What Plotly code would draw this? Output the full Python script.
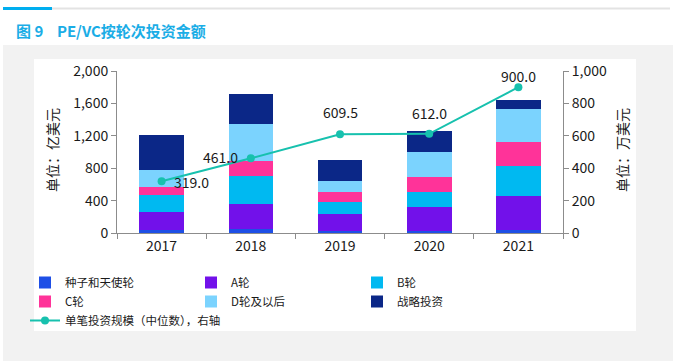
import plotly.graph_objects as go

years = ["2017", "2018", "2019", "2020", "2021"]
seed_angel = [37, 49, 29, 29, 33]
round_a = [227, 314, 206, 297, 421]
round_b = [202, 342, 144, 186, 372]
round_c = [107, 181, 128, 174, 293]
round_d_plus = [210, 462, 132, 318, 417]
strategic = [425, 363, 268, 252, 112]
median_deal = [319.0, 461.0, 609.5, 612.0, 900.0]

series = [
    ("种子和天使轮", seed_angel, "#1E4FE6"),
    ("A轮", round_a, "#7211EA"),
    ("B轮", round_b, "#00B9F1"),
    ("C轮", round_c, "#FF3399"),
    ("D轮及以后", round_d_plus, "#7BD3FE"),
    ("战略投资", strategic, "#0B2787"),
]
line_name = "单笔投资规模（中位数），右轴"
line_color = "#17C1AE"

W, H = 673, 361
L, R, T, B = 117, 563, 71, 233  # plot area in pixels

FONT = "Noto Sans CJK SC, Noto Sans, sans-serif"

def px(x):
    return (x - L) / (R - L)

def py(y):
    return (B - y) / (B - T)

fig = go.Figure()
for name, vals, col in series:
    fig.add_trace(go.Bar(x=years, y=vals, name=name, marker=dict(color=col, line=dict(width=0)),
                         width=0.5))
fig.add_trace(go.Scatter(x=years, y=median_deal, name=line_name, yaxis="y2",
                         mode="lines+markers", line=dict(color=line_color, width=2),
                         marker=dict(color=line_color, size=8)))

# data labels for the line (category index positions)
shifts = [(30, -1), (-30, 1), (0, 22), (0, 21), (0, 11)]
for i, (v, (dx, dy)) in enumerate(zip(median_deal, shifts)):
    fig.add_annotation(x=i, y=v, xref="x", yref="y2", text=f"{v:.1f}", showarrow=False,
                       xshift=dx, yshift=dy, font=dict(size=14, color="#1a1a1a", family=FONT))

shapes = [
    dict(type="rect", xref="paper", yref="paper", x0=px(3), x1=px(673), y0=py(45), y1=py(361),
         fillcolor="#F2F2F2", line=dict(width=0), layer="below"),
    dict(type="rect", xref="paper", yref="paper", x0=px(34), x1=px(636), y0=py(59), y1=py(331),
         fillcolor="#FFFFFF", line=dict(width=0), layer="below"),
    dict(type="rect", xref="paper", yref="paper", x0=px(52), x1=px(670), y0=py(7.5), y1=py(9.5),
         fillcolor="#E3E3E3", line=dict(width=0), layer="below"),
    dict(type="rect", xref="paper", yref="paper", x0=px(3), x1=px(52), y0=py(7), y1=py(10),
         fillcolor="#00AEEF", line=dict(width=0), layer="below"),
]

annotations_extra = [
    dict(xref="paper", yref="paper", x=px(14), y=py(30), xanchor="left", yanchor="middle",
         text="<b>图 9    PE/VC按轮次投资金额</b>", showarrow=False,
         font=dict(size=15, color="#1AADE6", family=FONT)),
    dict(xref="paper", yref="paper", x=px(52), y=py(150), xanchor="center", yanchor="middle",
         text="单位：亿美元", textangle=-90, showarrow=False,
         font=dict(size=14, color="#1a1a1a", family=FONT)),
    dict(xref="paper", yref="paper", x=px(622), y=py(150), xanchor="center", yanchor="middle",
         text="单位：万美元", textangle=-90, showarrow=False,
         font=dict(size=14, color="#1a1a1a", family=FONT)),
]
for a in annotations_extra:
    fig.add_annotation(**a)

axis_col = "#8C8C8C"
fig.update_layout(
    width=W, height=H,
    margin=dict(l=L, r=W - R, t=T, b=H - B, pad=0),
    paper_bgcolor="#FFFFFF", plot_bgcolor="rgba(0,0,0,0)",
    barmode="stack", bargap=0.5,
    font=dict(family=FONT, size=14, color="#1a1a1a"),
    showlegend=True,
    legend=dict(orientation="h", x=px(25), y=py(268), xanchor="left", yanchor="top",
                entrywidth=121, entrywidthmode="pixels", traceorder="normal",
                font=dict(size=11.5, color="#1a1a1a", family=FONT), bgcolor="rgba(0,0,0,0)",
                tracegroupgap=0, itemwidth=30),
    shapes=shapes,
    xaxis=dict(type="category", range=[-0.5, 4.5], autorange=False, showline=True,
               linecolor=axis_col, linewidth=1,
               ticks="outside", tickson="boundaries", ticklen=5, tickcolor=axis_col,
               showgrid=False, tickfont=dict(size=14), tickangle=0),
    yaxis=dict(range=[0, 2000], dtick=400, tickformat=",", showline=True, linecolor=axis_col,
               ticks="outside", ticklen=5, tickcolor=axis_col, showgrid=False, zeroline=False,
               tickfont=dict(size=14)),
    yaxis2=dict(range=[0, 1000], dtick=200, tickformat=",", overlaying="y", side="right",
                showline=True, linecolor=axis_col, ticks="outside", ticklen=5, tickcolor=axis_col,
                showgrid=False, zeroline=False, tickfont=dict(size=14)),
)

fig.write_html("out.html", config={"displayModeBar": False},
               post_script="document.body.style.margin='0';")
